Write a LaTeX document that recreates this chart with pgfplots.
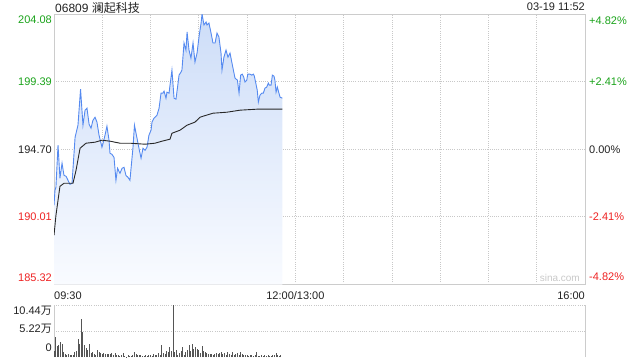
\documentclass[border=0pt]{standalone}
\usepackage{pgfplots}
\pgfplotsset{compat=1.18}
\usepackage{pgfplotstable}
\usepackage{fontspec}
\setmainfont{Liberation Sans}
\newfontfamily\cjk{Noto Sans CJK SC}
\definecolor{upgreen}{RGB}{26,163,26}
\definecolor{downred}{RGB}{238,34,34}
\definecolor{lineblue}{RGB}{85,138,240}
\definecolor{avgline}{RGB}{40,40,40}
\definecolor{gridgray}{RGB}{200,200,200}
\definecolor{bordergray}{RGB}{204,204,204}
\definecolor{fillblue}{RGB}{205,221,248}
\definecolor{fillbottom}{RGB}{249,251,255}
\definecolor{bargray}{RGB}{85,85,85}
\definecolor{txt}{RGB}{34,34,34}

\pgfplotstableread{
m p
0 190.81
0.6 191.85
1.2 192.06
2.5 194.98
3.7 192.69
5.0 193.73
6.2 192.89
7.5 192.82
8.7 192.55
9.9 192.27
11.2 192.34
13.1 195.53
14.9 196.37
16.5 198.87
18.0 196.37
19.3 197.41
20.5 197.55
21.8 196.44
23.0 196.16
24.2 196.71
25.5 196.92
26.7 196.58
28.0 195.67
29.8 194.84
30.5 195.12
31.7 195.67
32.9 196.30
34.2 195.33
34.8 194.42
36.0 194.35
37.3 194.14
38.5 192.55
39.5 193.38
41.0 193.03
42.3 193.38
43.5 193.45
44.7 192.89
46.0 192.75
47.2 192.55
49.1 194.84
50.0 196.37
51.6 195.46
52.8 194.77
54.1 194.08
55.3 194.77
56.6 194.63
57.8 194.84
59.0 195.67
60.3 196.02
60.9 196.58
62.1 196.85
64.0 197.06
65.3 197.55
66.5 198.59
67.7 198.59
68.4 198.73
69.6 198.24
70.2 198.66
71.5 198.59
72.1 199.15
73.3 200.19
74.6 198.24
75.8 198.17
77.1 199.29
77.7 199.84
78.9 200.05
79.5 200.19
80.8 202.07
82.0 201.58
82.7 202.83
83.9 201.58
85.1 201.02
86.4 202.07
87.6 200.75
88.9 201.37
90.1 202.48
91.4 203.45
92.0 204.08
93.2 203.32
94.5 203.52
95.1 203.32
96.3 203.45
97.6 202.76
98.8 202.07
100.1 202.07
101.3 202.76
102.5 202.48
103.8 201.37
104.4 200.19
105.6 201.09
106.9 201.58
108.1 201.09
109.4 201.37
110.6 200.68
112.5 199.63
114.0 199.49
115.0 198.59
116.0 199.84
117.0 199.91
117.9 199.70
118.7 199.36
119.8 199.49
120.4 199.91
121.8 199.91
122.9 199.84
123.9 199.91
124.5 199.77
125.4 199.29
126.3 198.80
127.0 197.97
128.0 198.45
129.1 198.59
130.1 198.59
131.1 198.94
132.2 199.01
133.2 199.29
133.8 199.15
134.9 199.15
135.7 199.84
136.7 199.77
137.3 199.49
138.0 198.66
138.8 199.01
139.8 198.59
140.5 198.31
141.9 198.24
}\price

\pgfplotstableread{
m p
0 188.73
1.2 190.11
2.5 191.16
3.7 192.13
6.2 192.34
11.8 192.34
13.7 193.24
16.2 194.77
19.9 195.12
25.5 195.19
29.8 195.33
34.8 195.26
41.0 195.12
47.2 195.12
56.6 195.05
62.8 195.12
67.1 195.26
72.1 195.40
73.3 195.81
78.3 196.02
82.7 196.37
87.6 196.58
90.7 196.92
92.6 196.99
98.8 197.20
107.5 197.27
115.6 197.41
126.2 197.48
141.9 197.48
}\avg

\pgfplotstableread{
m v
0 1.2
1 4.00
2 2.22
3 2.36
4 2.93
5 2.57
6 0.93
7 0.57
8 0.43
9 0.57
10 0.43
11 0.50
12 0.36
13 0.93
14 1.14
15 3.65
16 2.57
17 7.72
18 4.93
19 2.36
20 1.86
21 1.50
22 2.57
23 0.79
24 0.93
25 0.57
26 0.36
27 1.36
28 0.93
29 0.79
30 0.64
31 0.79
32 0.57
33 0.57
34 0.64
35 0.57
36 0.79
37 0.50
38 0.79
39 0.50
40 0.50
41 0.29
42 0.36
43 0.71
44 0.21
45 0.07
46 0.36
47 0.21
48 0.29
49 0.50
50 0.93
51 0.64
52 0.50
53 0.36
54 0.50
55 0.21
56 0.29
57 0.43
58 0.29
59 0.43
60 0.36
61 0.29
62 0.57
63 0.36
64 0.50
65 0.79
66 0.43
67 2.36
68 0.79
69 0.57
70 1.22
71 0.93
72 2.00
73 1.14
74 10.44
75 0.93
76 1.50
77 0.43
78 0.79
79 1.14
80 2.00
81 0.50
82 1.07
83 1.50
84 2.36
85 1.14
86 2.57
87 1.64
88 2.07
89 1.64
90 1.36
91 0.79
92 2.22
93 1.14
94 0.93
95 0.79
96 0.57
97 0.64
98 0.57
99 0.43
100 0.57
101 0.79
102 0.64
103 0.79
104 0.93
105 0.57
106 0.79
107 0.43
108 0.93
109 0.57
110 0.43
111 0.93
112 0.36
113 0.57
114 0.79
115 0.36
116 0.93
117 0.57
118 0.43
119 0.36
120 0.50
121 0.21
122 0.36
123 0.50
124 0.21
125 0.36
126 0.93
127 0.21
128 0.29
129 0.36
130 0.21
131 0.36
132 0.21
133 0.36
134 0.29
135 0.21
136 0.36
137 0.50
138 0.79
139 0.43
140 0.29
141 0.36
}\vol

\begin{document}
\begin{tikzpicture}[x=1bp,y=1bp]
\useasboundingbox (0,0) rectangle (640,-360);
\newcommand\lbl{\fontsize{11bp}{13bp}\selectfont}
% title and time
\node[anchor=west, inner sep=0pt, text=txt] at (55,-8) {\fontsize{12bp}{14bp}\selectfont 06809 {\cjk 澜起科技}};
\node[anchor=east, inner sep=0pt, text=txt] at (585,-7) {\lbl 03-19 11:52};

\begin{axis}[at={(54bp,-14bp)}, anchor=north west,
  width=531bp, height=270.5bp, scale only axis,
  xmin=0, xmax=330, ymin=185.32, ymax=204.08,
  xtick={30,60,...,300}, ytick={190.01,194.70,199.39},
  xticklabel=\empty, yticklabel=\empty,
  major tick length=0pt,
  grid=major,
  major grid style={color=gridgray, line width=0.8bp, dash pattern=on 1bp off 1.2bp},
  axis line style={color=bordergray, line width=0.8bp},
  clip=true]
\addplot[draw=none, top color=fillblue, bottom color=fillbottom] table[x=m,y=p] {\price}
  -- (axis cs:141.9,185.32) -- (axis cs:0,185.32) -- cycle;
\addplot[color=lineblue, line width=0.9bp, mark=none] table[x=m,y=p] {\price};
\addplot[color=avgline, line width=0.9bp, mark=none] table[x=m,y=p] {\avg};
\end{axis}

% left price labels
\node[anchor=east, inner sep=0pt, text=upgreen] at (52,-20) {\lbl 204.08};
\node[anchor=east, inner sep=0pt, text=upgreen] at (52,-82) {\lbl 199.39};
\node[anchor=east, inner sep=0pt, text=txt] at (52,-149.5) {\lbl 194.70};
\node[anchor=east, inner sep=0pt, text=downred] at (52,-217) {\lbl 190.01};
\node[anchor=east, inner sep=0pt, text=downred] at (52,-278) {\lbl 185.32};
% right percent labels
\node[anchor=west, inner sep=0pt, text=upgreen] at (589,-21) {\lbl +4.82\%};
\node[anchor=west, inner sep=0pt, text=upgreen] at (589,-82) {\lbl +2.41\%};
\node[anchor=west, inner sep=0pt, text=txt] at (589,-149.5) {\lbl 0.00\%};
\node[anchor=west, inner sep=0pt, text=downred] at (589,-217) {\lbl -2.41\%};
\node[anchor=west, inner sep=0pt, text=downred] at (589,-277) {\lbl -4.82\%};
% watermark
\node[anchor=east, inner sep=0pt, text=gridgray] at (580,-278) {\fontsize{10bp}{12bp}\selectfont sina.com};
% time labels
\node[anchor=west, inner sep=0pt, text=txt] at (54,-296) {\lbl 09:30};
\node[inner sep=0pt, text=txt] at (295.4,-296) {\lbl 12:00/13:00};
\node[anchor=east, inner sep=0pt, text=txt] at (585,-296) {\lbl 16:00};

\begin{axis}[at={(54bp,-305bp)}, anchor=north west,
  width=531bp, height=52bp, scale only axis,
  xmin=0, xmax=330, ymin=0, ymax=10.44,
  axis line style={draw=none}, ticks=none, clip=false]
\draw[color=gridgray, line width=0.8bp, dash pattern=on 1bp off 1.2bp] (rel axis cs:0,1) -- (rel axis cs:1,1);
\draw[color=gridgray, line width=0.8bp, dash pattern=on 1bp off 1.2bp] (axis cs:0,5.22) -- (axis cs:330,5.22);
\draw[color=bordergray, line width=0.8bp] (rel axis cs:0,0) -- (rel axis cs:0,1);
\draw[color=bordergray, line width=0.8bp] (rel axis cs:1,0) -- (rel axis cs:1,1);
\addplot[ycomb, color=bargray, line width=1bp, mark=none] table[x=m,y=v] {\vol};
\end{axis}
\node[anchor=east, inner sep=0pt, text=txt] at (52,-311) {\lbl 10.44{\cjk 万}};
\node[anchor=east, inner sep=0pt, text=txt] at (52,-329) {\lbl 5.22{\cjk 万}};
\node[anchor=east, inner sep=0pt, text=txt] at (52,-348) {\lbl 0};
\end{tikzpicture}
\end{document}
